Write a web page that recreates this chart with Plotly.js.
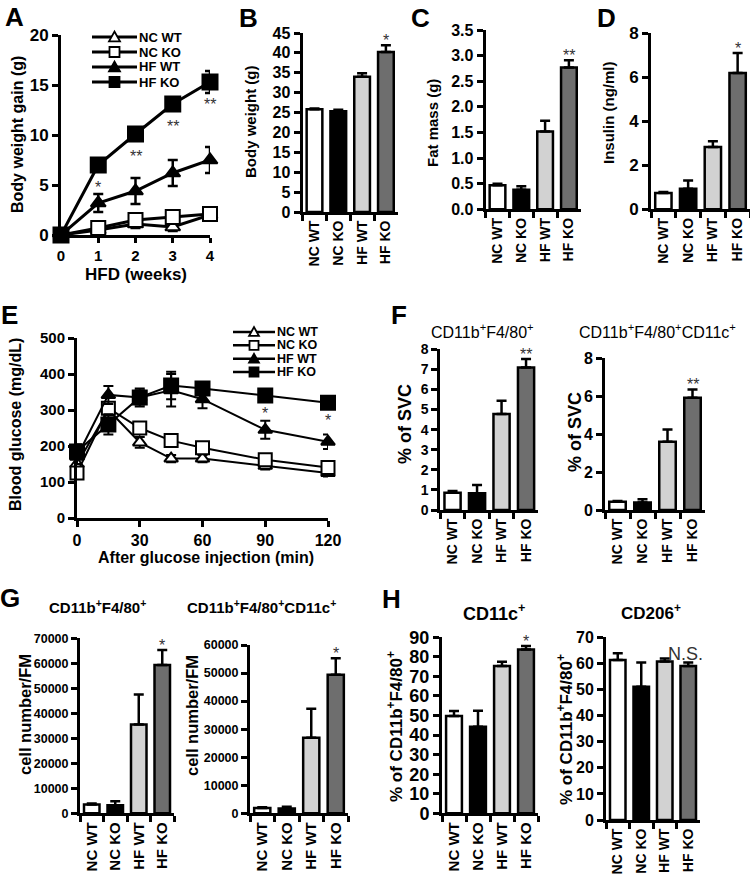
<!DOCTYPE html>
<html><head><meta charset="utf-8">
<script src="https://cdn.plot.ly/plotly-3.0.1.min.js"></script>
<style>html,body{margin:0;padding:0;background:#fff}#chart{width:750px;height:881px}</style>
</head><body><div id="chart"></div>
<script>
// ================= DATA =================
const groups = ['NC WT', 'NC KO', 'HF WT', 'HF KO'];

// A: body weight gain (g) vs HFD weeks
const weeks = [0, 1, 2, 3, 4];
const gainNCWT = [0, 0.5, 1.1, 0.8, 2.0];
const gainNCWTErr = [0, 0.3, 0.4, 0.4, 0.4];
const gainNCKO = [0, 0.7, 1.5, 1.8, 2.1];
const gainNCKOErr = [0, 0.4, 0.4, 0.5, 0.4];
const gainHFWT = [0, 3.2, 4.4, 6.2, 7.5];
const gainHFWTErr = [0, 0.9, 1.3, 1.3, 1.3];
const gainHFKO = [0, 7.0, 10.1, 13.1, 15.3];
const gainHFKOErr = [0, 0.5, 0.6, 0.5, 1.1];
const sigA = ['', '*', '**', '**', '**'];

// B: body weight (g)
const bodyWeight = [25.8, 25.3, 34.0, 40.2];
const bodyWeightErr = [0.2, 0.4, 0.9, 1.7];
// C: fat mass (g)
const fatMass = [0.47, 0.38, 1.52, 2.77];
const fatMassErr = [0.03, 0.07, 0.21, 0.14];
// D: insulin (ng/ml)
const insulin = [0.74, 0.93, 2.83, 6.18];
const insulinErr = [0.04, 0.38, 0.26, 0.91];

// E: blood glucose (mg/dL) after glucose injection
const minutes = [0, 15, 30, 45, 60, 90, 120];
const gluNCWT = [150, 300, 210, 165, 165, 145, 125];
const gluNCWTErr = [15, 15, 15, 10, 10, 10, 10];
const gluNCKO = [125, 305, 250, 215, 195, 162, 140];
const gluNCKOErr = [15, 15, 15, 10, 10, 10, 10];
const gluHFWT = [170, 342, 335, 355, 330, 245, 212];
const gluHFWTErr = [20, 25, 20, 45, 25, 25, 20];
const gluHFKO = [185, 260, 335, 368, 360, 340, 320];
const gluHFKOErr = [20, 28, 25, 38, 15, 15, 10];
const sigE = ['', '', '', '', '', '*', '*'];

// F: % of SVC
const svcMac = [0.86, 0.83, 4.78, 7.1];
const svcMacErr = [0.08, 0.41, 0.66, 0.42];
const svcM1 = [0.44, 0.4, 3.6, 5.92];
const svcM1Err = [0.04, 0.17, 0.65, 0.44];

// G: cell number / FM
const cellMac = [3500, 3200, 35500, 59300];
const cellMacErr = [400, 1600, 12000, 6000];
const cellM1 = [1900, 1700, 26900, 49400];
const cellM1Err = [300, 600, 10400, 5900];

// H: % of CD11b+F4/80+
const pctCD11c = [49.7, 44.3, 75.3, 83.8];
const pctCD11cErr = [2.6, 8.2, 2.2, 1.7];
const pctCD206 = [61.3, 51.1, 60.7, 59.0];
const pctCD206Err = [2.6, 9.2, 1.2, 1.3];

const sigBars = {B: '*', C: '**', D: '*', F1: '**', F2: '**', G1: '*', G2: '*', H1: '*', H2: 'N.S.'};

// ================= STYLE / LAYOUT HELPERS =================
const W = 750, H = 881;
const FONT = 'Liberation Sans, Arial, sans-serif';
const barColors = ['#ffffff', '#000000', '#d2d2d2', '#6e6e6e'];
const fx = p => p / W, fy = p => 1 - p / H;
const xdom = (a, b) => [fx(a), fx(b)];
const ydom = (top, bottom) => [fy(bottom), fy(top)];
const tf = (s) => ({family: FONT, size: s, color: '#000', weight: 'bold'});

function baseAxis(extra) {
  return Object.assign({
    showline: true, linecolor: '#000', linewidth: 3,
    ticks: 'outside', ticklen: 6, tickwidth: 3, tickcolor: '#000',
    showgrid: false, zeroline: false, fixedrange: true
  }, extra);
}

const layout = {
  width: W, height: H, margin: {l: 0, r: 0, t: 0, b: 0},
  paper_bgcolor: '#fff', plot_bgcolor: 'rgba(0,0,0,0)', showlegend: false,
  font: {family: FONT, color: '#000'}, annotations: [], shapes: []
};
const traces = [];

function textAnno(x, y, text, size, opts) {
  layout.annotations.push(Object.assign({
    xref: 'paper', yref: 'paper', x: fx(x), y: fy(y), text: text, showarrow: false,
    xanchor: 'center', yanchor: 'middle', font: tf(size)
  }, opts || {}));
}

// ================= PANEL A =================
const seriesA = [
  {name: groups[0], y: gainNCWT, e: gainNCWTErr, sym: 'triangle-up', fill: '#fff', size: 13},
  {name: groups[1], y: gainNCKO, e: gainNCKOErr, sym: 'square', fill: '#fff', size: 14},
  {name: groups[2], y: gainHFWT, e: gainHFWTErr, sym: 'triangle-up', fill: '#000', size: 13},
  {name: groups[3], y: gainHFKO, e: gainHFKOErr, sym: 'square', fill: '#000', size: 15}
];
layout.xaxis = baseAxis({domain: xdom(61, 210), range: [0, 4], tickvals: weeks, ticklen: 5, tickfont: tf(15), anchor: 'y'});
layout.yaxis = baseAxis({domain: ydom(35, 235), range: [0, 20], tick0: 0, dtick: 5, tickfont: tf(17), anchor: 'x'});
seriesA.forEach(s => traces.push({
  type: 'scatter', mode: 'lines+markers', name: s.name, x: weeks, y: s.y, xaxis: 'x', yaxis: 'y',
  cliponaxis: false,
  line: {color: '#000', width: 3},
  marker: {symbol: s.sym, size: s.size, color: s.fill, line: {color: '#000', width: 2}},
  error_y: {type: 'data', array: s.e, visible: true, color: '#000', thickness: 2.5, width: 5}
}));
sigA.forEach((t, i) => { if (t) layout.annotations.push({xref: 'x', yref: 'y', x: weeks[i], y: gainHFKO[i], text: t,
  showarrow: false, yanchor: 'middle', yshift: -23, font: {family: FONT, size: 16, color: '#333'}}); });

// ================= PANEL E =================
const seriesE = [
  {name: groups[0], y: gluNCWT, e: gluNCWTErr, sym: 'triangle-up', fill: '#fff', size: 12},
  {name: groups[1], y: gluNCKO, e: gluNCKOErr, sym: 'square', fill: '#fff', size: 13},
  {name: groups[2], y: gluHFWT, e: gluHFWTErr, sym: 'triangle-up', fill: '#000', size: 12},
  {name: groups[3], y: gluHFKO, e: gluHFKOErr, sym: 'square', fill: '#000', size: 14}
];
layout.xaxis5 = baseAxis({domain: xdom(77, 328), range: [0, 120], tick0: 0, dtick: 30, tickfont: tf(16), anchor: 'y5'});
layout.yaxis5 = baseAxis({domain: ydom(338, 518), range: [0, 500], tick0: 0, dtick: 100, tickfont: tf(15), anchor: 'x5'});
seriesE.forEach(s => traces.push({
  type: 'scatter', mode: 'lines+markers', name: s.name, x: minutes, y: s.y, xaxis: 'x5', yaxis: 'y5',
  cliponaxis: false,
  line: {color: '#000', width: 2},
  marker: {symbol: s.sym, size: s.size, color: s.fill, line: {color: '#000', width: 2}},
  error_y: {type: 'data', array: s.e, visible: true, color: '#000', thickness: 2, width: 5}
}));
sigE.forEach((t, i) => { if (t) layout.annotations.push({xref: 'x5', yref: 'y5', x: minutes[i], y: gluHFKO[i], text: t,
  showarrow: false, yanchor: 'middle', yshift: -18, font: {family: FONT, size: 16, color: '#333'}}); });

// ================= BAR PANELS =================
const barPanels = [
  {id: 2, v: bodyWeight, e: bodyWeightErr, sig: sigBars.B, x: [302.6, 397.8], y: [33, 212], range: [0, 45], dtick: 5, tfs: 16, cfs: 14},
  {id: 3, v: fatMass, e: fatMassErr, sig: sigBars.C, x: [485.6, 580.8], y: [30, 209.3], range: [0, 3.5], dtick: 0.5, fmt: '.1f', tfs: 16, cfs: 14},
  {id: 4, v: insulin, e: insulinErr, sig: sigBars.D, x: [651, 750], y: [33, 209.3], range: [0, 8], dtick: 2, tfs: 17, cfs: 14},
  {id: 6, v: svcMac, e: svcMacErr, sig: sigBars.F1, x: [440.3, 538.3], y: [349.3, 510], range: [0, 8], dtick: 1, tfs: 14, cfs: 14},
  {id: 7, v: svcM1, e: svcM1Err, sig: sigBars.F2, x: [605, 705], y: [358.3, 510], range: [0, 8], dtick: 2, tfs: 16, cfs: 14},
  {id: 8, v: cellMac, e: cellMacErr, sig: sigBars.G1, x: [80, 174], y: [638.3, 813.3], range: [0, 70000], dtick: 10000, fmt: 'd', tfs: 12.5, cfs: 15},
  {id: 9, v: cellM1, e: cellM1Err, sig: sigBars.G2, x: [250, 348], y: [645, 813.3], range: [0, 60000], dtick: 10000, fmt: 'd', tfs: 12.5, cfs: 15},
  {id: 10, v: pctCD11c, e: pctCD11cErr, sig: sigBars.H1, x: [442, 538], y: [637.3, 813.3], range: [0, 90], dtick: 10, tfs: 18, cfs: 15},
  {id: 11, v: pctCD206, e: pctCD206Err, sig: sigBars.H2, x: [606, 700], y: [637.3, 820], range: [0, 70], dtick: 10, tfs: 16, cfs: 14}
];
barPanels.forEach(p => {
  const xa = 'x' + p.id, ya = 'y' + p.id;
  layout['xaxis' + p.id] = baseAxis({domain: xdom(p.x[0], p.x[1]), type: 'category', range: [-0.5, 3.5],
    tickson: 'boundaries', tickangle: -90, tickfont: tf(p.cfs), anchor: ya});
  layout['yaxis' + p.id] = baseAxis(Object.assign({domain: ydom(p.y[0], p.y[1]), range: p.range, tick0: 0, dtick: p.dtick,
    tickfont: tf(p.tfs), anchor: xa}, p.fmt ? {tickformat: p.fmt} : {}));
  traces.push({
    type: 'bar', x: groups, y: p.v, xaxis: xa, yaxis: ya, width: 0.66, cliponaxis: false,
    marker: {color: barColors, line: {color: '#000', width: 2.5}},
    error_y: {type: 'data', symmetric: false, array: p.e, arrayminus: p.e.map(() => 0), visible: true,
      color: '#000', thickness: 2.5, width: 5}
  });
  const isNS = p.sig === 'N.S.';
  layout.annotations.push({xref: xa, yref: ya, x: groups[3], y: p.v[3] + p.e[3], text: p.sig, showarrow: false,
    yanchor: 'bottom', yshift: isNS ? -3 : -6, xshift: isNS ? -3 : 0,
    font: {family: FONT, size: isNS ? 18 : 16, color: '#333'}});
});

// ================= AXIS TITLES / PANEL TITLES / LETTERS =================
const rot = {textangle: -90};
textAnno(18, 135, 'Body weight gain (g)', 16, rot);
textAnno(136, 274, 'HFD (weeks)', 17);
textAnno(250, 122, 'Body weight (g)', 15, rot);
textAnno(433, 123, 'Fat mass (g)', 15, rot);
textAnno(608, 113, 'Insulin (ng/ml)', 15, rot);
textAnno(15, 425, 'Blood glucose (mg/dL)', 16, rot);
textAnno(206, 557, 'After glucose injection (min)', 16);
textAnno(405, 424, '% of SVC', 18, rot);
textAnno(575, 432, '% of SVC', 18, rot);
textAnno(25, 715, 'cell number/FM', 16.5, rot);
textAnno(192, 716, 'cell number/FM', 16.5, rot);
textAnno(395, 726, '% of CD11b<sup>+</sup>F4/80<sup>+</sup>', 17, rot);
textAnno(565, 730, '% of CD11b<sup>+</sup>F4/80<sup>+</sup>', 17, rot);

const subT = {font: {family: FONT, size: 16, color: '#000'}};
textAnno(482, 331, 'CD11b<sup>+</sup>F4/80<sup>+</sup>', 16, subT);
textAnno(657, 331, 'CD11b<sup>+</sup>F4/80<sup>+</sup>CD11c<sup>+</sup>', 16, subT);
textAnno(97, 606, 'CD11b<sup>+</sup>F4/80<sup>+</sup>', 16, {font: tf(15)});
textAnno(261, 606, 'CD11b<sup>+</sup>F4/80<sup>+</sup>CD11c<sup>+</sup>', 16, {font: tf(15)});
textAnno(494, 612, 'CD11c<sup>+</sup>', 18);
textAnno(651, 612, 'CD206<sup>+</sup>', 17);

[['A', 14, 17], ['B', 248.5, 18], ['C', 420.5, 18], ['D', 606.5, 18], ['E', 9, 315], ['F', 398.5, 315], ['G', 10, 597.5], ['H', 391.5, 599]]
  .forEach(l => textAnno(l[1], l[2], l[0], 26));

// ================= LEGENDS (keys for panels A and E) =================
function addLegend(series, cfg) {
  series.forEach((s, i) => {
    const cy = cfg.rows[i], cx = (cfg.x0 + cfg.x1) / 2, h = cfg.ms / 2;
    layout.shapes.push({type: 'line', xref: 'paper', yref: 'paper', x0: fx(cfg.x0), x1: fx(cfg.x1), y0: fy(cy), y1: fy(cy),
      line: {color: '#000', width: cfg.lw}});
    if (s.sym === 'square') {
      layout.shapes.push({type: 'rect', xref: 'paper', yref: 'paper', x0: fx(cx - h), x1: fx(cx + h), y0: fy(cy + h), y1: fy(cy - h),
        fillcolor: s.fill, line: {color: '#000', width: 1.8}});
    } else {
      const t = h * 1.1;
      layout.shapes.push({type: 'path', xref: 'paper', yref: 'paper',
        path: `M ${fx(cx - t)} ${fy(cy + t * 0.8)} L ${fx(cx + t)} ${fy(cy + t * 0.8)} L ${fx(cx)} ${fy(cy - t)} Z`,
        fillcolor: s.fill, line: {color: '#000', width: 1.8}});
    }
    textAnno(cfg.tx, cy, s.name, cfg.fs, {xanchor: 'left'});
  });
}
addLegend(seriesA, {x0: 92, x1: 137, rows: [37, 52, 67, 82], ms: 10, lw: 3, tx: 137, fs: 13});
addLegend(seriesE, {x0: 233, x1: 275, rows: [332, 345.3, 358.7, 372], ms: 9, lw: 2.5, tx: 275, fs: 12.5});

Plotly.newPlot('chart', traces, layout, {staticPlot: true, displayModeBar: false});
</script>
</body></html>
